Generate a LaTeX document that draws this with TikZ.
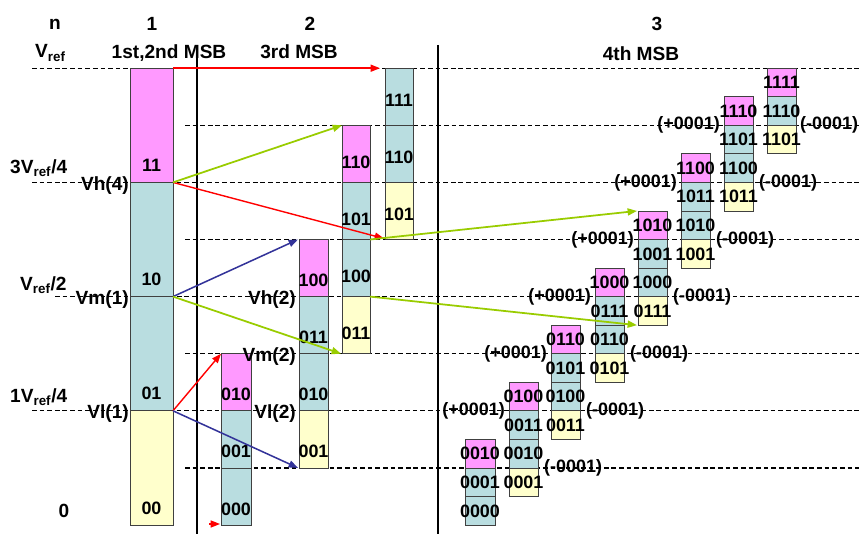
\documentclass[tikz,border=0pt]{standalone}
\usepackage{fontspec}
\setmainfont{Liberation Sans}
\usetikzlibrary{arrows.meta}

\definecolor{segpink}{HTML}{FF99FF}
\definecolor{segcyan}{HTML}{B9DDE0}
\definecolor{segyellow}{HTML}{FFFFCC}
\definecolor{arrgreen}{HTML}{99CC00}
\definecolor{arrblue}{HTML}{333399}

% one coloured piece of a code bar: name, x, width, lower level, upper level, fill, code, label lift
\newcommand{\seg}[8]{%
  \filldraw[segbox, fill=#6] (#2,{lv(#4)}) rectangle ++(#3,{-28.55*((#5)-(#4))});
  \node[seglabel] (#1) at ({#2+#3/2},{lv(#4)-#8}) {#7};}

\begin{document}
\begin{tikzpicture}[x=0.03cm,y=-0.03cm,
    declare function={lv(\k)=525-28.55*\k;},
    >={Triangle[length=8pt,width=6pt]},
    lbl/.style={font=\bfseries\fontsize{15.3}{17}\selectfont, inner sep=0pt},
    head/.style={font=\bfseries\fontsize{16.3}{18}\selectfont, inner sep=0pt},
    seglabel/.style={lbl, anchor=base},
    segbox/.style={draw=black!75, line width=0.6pt},
    level/.style={dash pattern=on 4pt off 2.5pt, line width=1.1pt},
    divider/.style={line width=2pt},
    redarr/.style={->, red, line width=1.2pt},
    greenarr/.style={->, arrgreen, line width=1.5pt},
    bluearr/.style={->, arrblue, line width=1.3pt}]

\useasboundingbox (0,0) rectangle (859,534);

% reference levels
\foreach \m in {16,12,4} \draw[level] (32,{lv(\m)}) -- (859,{lv(\m)});
\draw[level] (55,{lv(8)}) -- (859,{lv(8)});
\foreach \m in {14,10,6,2} \draw[level] (185,{lv(\m)}) -- (859,{lv(\m)});

\draw[divider] (197,50) -- (197,534);
\draw[divider] (438,45) -- (438,534);

% headings
\node[head] (hn) at (55,24) {n};
\node[head] (h1) at (152,24) {1};
\node[head] (h2) at (310,24) {2};
\node[head] (h3) at (657,24) {3};
\node[head, anchor=base] (msb12) at (169,59) {1st,2nd MSB};
\node[head, anchor=base] (msb3) at (299,59) {3rd MSB};
\node[head, anchor=base] (msb4) at (641,61) {4th MSB};

\node[head, anchor=base west] (vref) at (35,58) {V\textsubscript{ref}};
\node[head, anchor=base west] (q3) at (10,173) {3V\textsubscript{ref}/4};
\node[head, anchor=base west] (q2) at (20,290) {V\textsubscript{ref}/2};
\node[head, anchor=base west] (q1) at (10,402) {1V\textsubscript{ref}/4};
\node[head, anchor=base] (q0) at (64,517) {0};

% column 1
\seg{s11}{130}{43}{12}{16}{segpink}{11}{11}
\seg{s10}{130}{43}{8}{12}{segcyan}{10}{11}
\seg{s01}{130}{43}{4}{8}{segcyan}{01}{11}
\seg{s00}{130}{43}{0}{4}{segyellow}{00}{11}

% column 2
\seg{a010}{221}{30}{4}{6}{segpink}{010}{10}
\seg{a001}{221}{30}{2}{4}{segcyan}{001}{10}
\seg{a000}{221}{30}{0}{2}{segcyan}{000}{10}

\seg{b100}{299}{29}{8}{10}{segpink}{100}{10}
\seg{b011}{299}{29}{6}{8}{segcyan}{011}{10}
\seg{b010}{299}{29}{4}{6}{segcyan}{010}{10}
\seg{b001}{299}{29}{2}{4}{segyellow}{001}{10}

\seg{c110}{342}{28}{12}{14}{segpink}{110}{14}
\seg{c101}{342}{28}{10}{12}{segcyan}{101}{14}
\seg{c100}{342}{28}{8}{10}{segcyan}{100}{14}
\seg{c011}{342}{28}{6}{8}{segyellow}{011}{14}

\seg{d111}{385}{28}{14}{16}{segcyan}{111}{19}
\seg{d110}{385}{28}{12}{14}{segcyan}{110}{19}
\seg{d101}{385}{28}{10}{12}{segyellow}{101}{19}

\node[head, anchor=base east] (vh4) at (129,{lv(12)+8}) {Vh(4)};
\node[head, anchor=base east] (vm1) at (129,{lv(8)+8}) {Vm(1)};
\node[head, anchor=base east] (vl1) at (129,{lv(4)+8}) {Vl(1)};
\node[head, anchor=base east] (vh2) at (296,{lv(8)+8}) {Vh(2)};
\node[head, anchor=base east] (vm2) at (296,{lv(6)+8}) {Vm(2)};
\node[head, anchor=base east] (vl2) at (296,{lv(4)+8}) {Vl(2)};

% column 3
\seg{e0p}{465}{30}{2}{3}{segpink}{0010}{8}
\seg{e0b}{465}{30}{1}{2}{segcyan}{0001}{8}
\seg{e0c}{465}{30}{0}{1}{segcyan}{0000}{8}

\foreach \i/\x/\p/\ca/\cb/\yy in {1/509/0100/0011/0010/0001, 2/551/0110/0101/0100/0011,
    3/595/1000/0111/0110/0101, 4/638/1010/1001/1000/0111,
    5/681/1100/1011/1010/1001, 6/724/1110/1101/1100/1011} {
  \seg{e\i p}{\x}{29}{2*\i+2}{2*\i+3}{segpink}{\p}{8}
  \seg{e\i b}{\x}{29}{2*\i+1}{2*\i+2}{segcyan}{\ca}{8}
  \seg{e\i c}{\x}{29}{2*\i}{2*\i+1}{segcyan}{\cb}{8}
  \seg{e\i y}{\x}{29}{2*\i-1}{2*\i}{segyellow}{\yy}{8}
  \node[lbl, anchor=east] (up\i) at (\x-4,{lv(2*\i+2)}) {(+0001)};
  \node[lbl, anchor=west] (dn\i) at (\x+35,{lv(2*\i)}) {(-0001)};
}

\seg{e7p}{767}{29}{15}{16}{segpink}{1111}{8}
\seg{e7b}{767}{29}{14}{15}{segcyan}{1110}{8}
\seg{e7y}{767}{29}{13}{14}{segyellow}{1101}{8}
\node[lbl, anchor=west] (dn7) at (800,{lv(14)}) {(-0001)};

% arrows
\coordinate (top1) at (173,{lv(16)});
\coordinate (out4) at (173,{lv(12)});
\coordinate (out8) at (173,{lv(8)});
\coordinate (out2) at (173,{lv(4)});
\coordinate (c2topr) at (370,{lv(10)});
\coordinate (c2midr) at (370,{lv(8)});

\draw[redarr] (top1) -- (380,{lv(16)});
\draw[redarr] (out4) -- (384,{lv(10)-1});
\draw[greenarr] (out4) -- (342,{lv(14)});
\draw[bluearr] (out8) -- (298,{lv(10)});
\draw[greenarr] (out8) -- (341,{lv(6)});
\draw[redarr] (out2) -- (221,{lv(6)});
\draw[bluearr] (out2) -- (298,{lv(2)});
\draw[redarr] (209,524) -- (220,524);
\draw[greenarr] (c2topr) -- (637,{lv(11)});
\draw[greenarr] (c2midr) -- (637,{lv(7)});

\end{tikzpicture}
\end{document}
